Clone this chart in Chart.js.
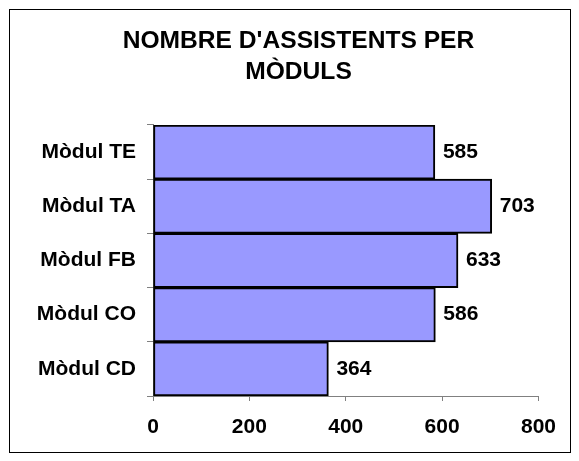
<!DOCTYPE html>
<html>
<head>
<meta charset="utf-8">
<script src="https://cdn.jsdelivr.net/npm/chart.js@4/dist/chart.umd.min.js"></script>
<style>
    body { margin: 0; background: #fff; }
    .chart-box {
        position: absolute;
        left: 9px; top: 9px;
        width: 560px; height: 442px;
        border: 1px solid #000;
    }
</style>
</head>
<body>
<div class="chart-box"><canvas id="assistChart" width="560" height="442"></canvas></div>
<script>
const titleLines = [ "NOMBRE D'ASSISTENTS PER", 'MÒDULS' ];
const modules = [ 'Mòdul TE', 'Mòdul TA', 'Mòdul FB', 'Mòdul CO', 'Mòdul CD' ];
const attendees = [ 585, 703, 633, 586, 364 ];
const xTicks = [ 0, 200, 400, 600, 800 ];

const fontFamily = "'Liberation Sans', Arial, sans-serif";

// valors a la dreta de cada barra
const valueLabels = {
    id : 'valueLabels',
    afterDatasetsDraw(chart) {
        const ctx = chart.ctx;
        const meta = chart.getDatasetMeta(0);
        ctx.save();
        ctx.font = 'bold 21px ' + fontFamily;
        ctx.fillStyle = '#000';
        ctx.textAlign = 'left';
        ctx.textBaseline = 'middle';
        meta.data.forEach((bar, i) => {
            ctx.fillText(String(attendees[i]), bar.x + 8, bar.y);
        });
        ctx.restore();
    }
};

// el títol original està una mica desplaçat a la dreta
const titleShift = {
    id : 'titleShift',
    afterLayout(chart) {
        if (chart.titleBlock) {
            chart.titleBlock.left += 21;
            chart.titleBlock.right += 21;
        }
    }
};

const chartCtx = document.getElementById('assistChart').getContext('2d');
new Chart(chartCtx, {
    type : 'bar',
    data : {
        labels : modules,
        datasets : [ {
            data : attendees,
            backgroundColor : '#9999ff',
            borderColor : '#000',
            borderWidth : 2,
            borderSkipped : false,
            categoryPercentage : 1,
            barPercentage : 1
        } ]
    },
    options : {
        indexAxis : 'y',
        responsive : false,
        animation : false,
        layout : { padding : { left : 0, right : 25, top : 0, bottom : 0 } },
        plugins : {
            legend : { display : false },
            tooltip : { enabled : false },
            title : {
                display : true,
                text : titleLines,
                color : '#000',
                font : { family : fontFamily, size : 24.6, weight : 'bold', lineHeight : 1.26 },
                padding : { top : 16, bottom : 37 }
            }
        },
        scales : {
            x : {
                min : 0,
                max : 800,
                afterBuildTicks : (scale) => {
                    scale.ticks = xTicks.map(v => ({ value : v }));
                },
                afterFit : (scale) => { scale.height = 56; },
                grid : {
                    drawOnChartArea : false,
                    drawTicks : true,
                    tickLength : 5,
                    color : '#808080'
                },
                border : { color : '#808080', width : 1 },
                ticks : {
                    color : '#000',
                    padding : 14,
                    font : { family : fontFamily, size : 21, weight : 'bold' }
                }
            },
            y : {
                afterFit : (scale) => { scale.width = 143; },
                grid : {
                    drawOnChartArea : false,
                    drawTicks : true,
                    tickLength : 6,
                    color : '#808080'
                },
                border : { color : '#808080', width : 1 },
                ticks : {
                    color : '#000',
                    padding : 11,
                    font : { family : fontFamily, size : 21, weight : 'bold' }
                }
            }
        }
    },
    plugins : [ valueLabels, titleShift ]
});
</script>
</body>
</html>
